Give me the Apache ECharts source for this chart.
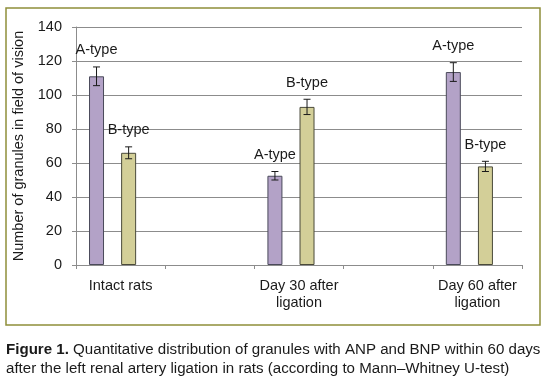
<!DOCTYPE html>
<html>
<head>
<meta charset="utf-8">
<script src="https://cdn.jsdelivr.net/npm/echarts@6/dist/echarts.min.js"></script>
<style>
html,body{margin:0;padding:0;background:#fff;}
#c{width:548px;height:384px;}
</style>
</head>
<body>
<div id="c"></div>
<script>
var categories = ['Intact rats', '', 'Day 30 after\nligation', '', 'Day 60 after\nligation'];
var aValues = [111, null, 52.5, null, 113.5];
var aErrors = [5.5, null, 2.5, null, 5.5];
var bValues = [66, null, 93, null, 58];
var bErrors = [3.5, null, 4.5, null, 3];
var aLabel = 'A-type';
var bLabel = 'B-type';
var yTicks = [0, 20, 40, 60, 80, 100, 120, 140];
var yTitle = 'Number of granules in field of vision';
var captionBold = 'Figure 1.';
var captionRest = ' Quantitative distribution of granules with ANP and BNP within 60 days\nafter the left renal artery ligation in rats (according to Mann\u2013Whitney U-test)';

var FONT = '"Liberation Sans", Arial, sans-serif';
var BAR_W = 15, BAR_GAP = 0.07, SLOTS = 4;
var colA = '#B3A2C7', colB = '#D3CF98';

function errData(vals, errs) {
  var out = [];
  for (var i = 0; i < vals.length; i++) {
    if (vals[i] != null) out.push([i, vals[i], errs[i]]);
  }
  return out;
}

function makeErr(slot, label) {
  var off = (slot - (SLOTS - 1) / 2) * BAR_W * (1 + BAR_GAP);
  return function (params, api) {
    var x = api.value(0), v = api.value(1), e = api.value(2);
    var top = api.coord([x, v + e]);
    var bot = api.coord([x, v - e]);
    var cx = top[0] + off;
    var cap = 3.5;
    var st = {stroke: '#1a1a1a', lineWidth: 1};
    return {
      type: 'group',
      children: [
        {type: 'line', shape: {x1: cx, y1: top[1], x2: cx, y2: bot[1]}, style: st},
        {type: 'line', shape: {x1: cx - cap, y1: top[1], x2: cx + cap, y2: top[1]}, style: st},
        {type: 'line', shape: {x1: cx - cap, y1: bot[1], x2: cx + cap, y2: bot[1]}, style: st},
        {type: 'text', x: cx, y: top[1] - 9, style: {text: label, fill: '#1a1a1a', font: '14.5px ' + FONT, textAlign: 'center', textVerticalAlign: 'bottom'}}
      ]
    };
  };
}

var empty = categories.map(function () { return null; });

var chart = echarts.init(document.getElementById('c'), null, {renderer: 'canvas'});
chart.setOption({
  animation: false,
  backgroundColor: '#fff',
  grid: {left: 76, right: 26, top: 27, bottom: 119, containLabel: false},
  xAxis: {
    type: 'category',
    data: categories,
    axisLine: {lineStyle: {color: '#8c8c8c', width: 1}},
    axisTick: {show: true, length: 4, lineStyle: {color: '#8c8c8c'}},
    axisLabel: {color: '#1a1a1a', fontFamily: FONT, fontSize: 14.5, margin: 12, lineHeight: 17, interval: 0}
  },
  yAxis: {
    type: 'value', min: yTicks[0], max: yTicks[yTicks.length - 1], interval: yTicks[1] - yTicks[0],
    name: yTitle, nameLocation: 'middle', nameGap: 45,
    nameTextStyle: {color: '#1a1a1a', fontFamily: FONT, fontSize: 14.5},
    axisLine: {show: true, lineStyle: {color: '#8c8c8c'}},
    axisTick: {show: true, length: 4, lineStyle: {color: '#8c8c8c'}},
    axisLabel: {color: '#1a1a1a', fontFamily: FONT, fontSize: 14.5, margin: 14},
    splitLine: {lineStyle: {color: '#8c8c8c', width: 1}}
  },
  series: [
    {type: 'bar', data: aValues, barWidth: BAR_W, barGap: (BAR_GAP * 100) + '%', itemStyle: {color: colA, borderColor: '#4a4a5a', borderWidth: 1}},
    {type: 'bar', data: empty, barWidth: BAR_W},
    {type: 'bar', data: bValues, barWidth: BAR_W, itemStyle: {color: colB, borderColor: '#4a4a3a', borderWidth: 1}},
    {type: 'bar', data: empty, barWidth: BAR_W},
    {type: 'custom', data: errData(aValues, aErrors), renderItem: makeErr(0, aLabel), z: 10},
    {type: 'custom', data: errData(bValues, bErrors), renderItem: makeErr(2, bLabel), z: 10}
  ],
  graphic: [
    {type: 'rect', shape: {x: 6, y: 8, width: 534, height: 317}, style: {fill: 'none', stroke: '#8f8f3a', lineWidth: 1.5}, z: -1},
    {type: 'text', left: 6, top: 340, style: {
      text: '{b|' + captionBold + '}' + captionRest,
      rich: {b: {fontWeight: 'bold', fontFamily: FONT, fontSize: 15.1, fill: '#1a1a1a'}},
      font: '15.1px ' + FONT, fill: '#1a1a1a', lineHeight: 19
    }}
  ]
});
</script>
</body>
</html>
